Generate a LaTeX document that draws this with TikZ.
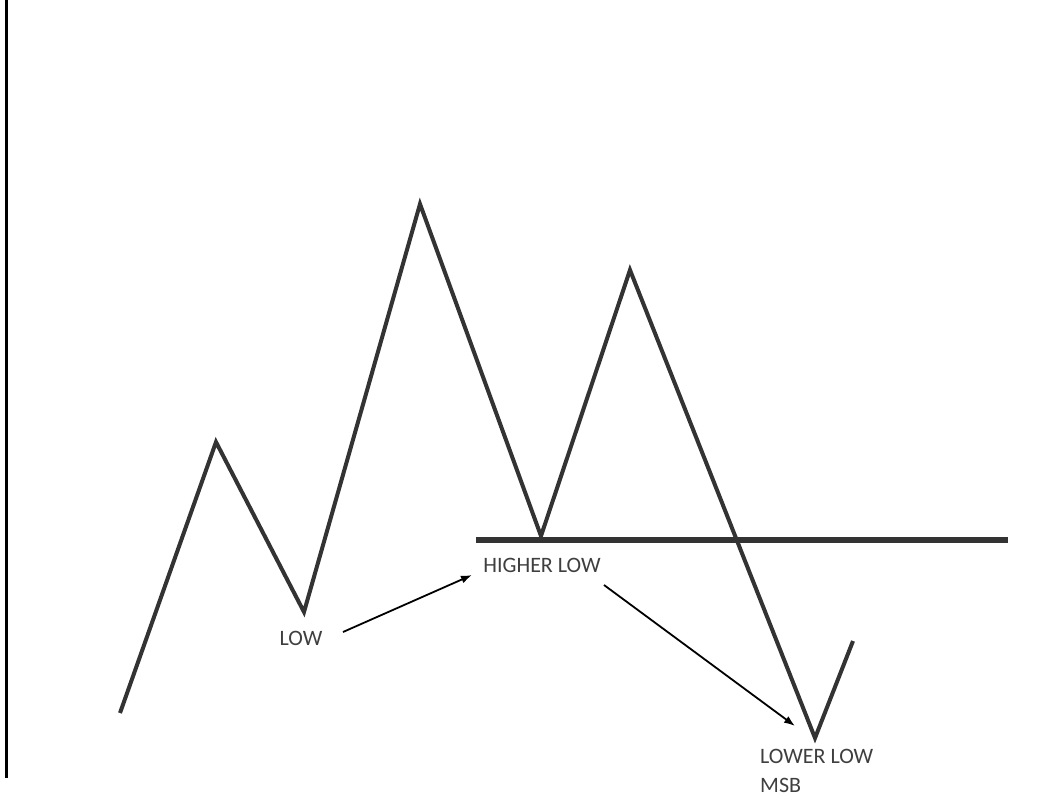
\documentclass[tikz,border=0pt]{standalone}
\usepackage{fontspec}
\setmainfont{Carlito}
\usetikzlibrary{arrows.meta}
\definecolor{zig}{HTML}{333333}
\definecolor{txt}{HTML}{3F3F3F}
\begin{document}
\begin{tikzpicture}[x=1pt,y=-1pt,
  zigline/.style={draw=zig,line width=4pt,line join=miter},
  level/.style={draw=zig,line width=6pt},
  pointer/.style={draw=black,line width=1.8pt,-{Latex[length=11pt,width=8pt]}},
  lab/.style={text=txt,font=\fontsize{22}{26}\selectfont,inner sep=0pt}]
\useasboundingbox[fill=white] (0,0) rectangle (1057,796);
\draw[line width=3pt] (6,0) -- (6,778);
\coordinate (p0) at (120,713);
\coordinate (p1) at (216,442);
\coordinate (p2) at (304,612);
\coordinate (p3) at (420,204);
\coordinate (p4) at (541,536);
\coordinate (p5) at (630,270);
\coordinate (p6) at (815,738);
\coordinate (p7) at (853,641);
\coordinate (l0) at (476,540);
\coordinate (l1) at (1008,540);
\draw[level] (l0) -- (l1);
\draw[zigline] (p0) -- (p1) -- (p2) -- (p3) -- (p4) -- (p5) -- (p6) -- (p7);
\node[lab] (low) at (301,638) {LOW};
\node[lab] (hl) at (542,565) {HIGHER LOW};
\node[lab,anchor=west] (ll) at (760,756) {LOWER LOW};
\node[lab,anchor=west] (msb) at (760,785) {MSB};
\coordinate (a1s) at (343,632);
\coordinate (a1e) at (472,575);
\coordinate (a2s) at (604,585);
\coordinate (a2e) at (795,726);
\draw[pointer] (a1s) -- (a1e);
\draw[pointer] (a2s) -- (a2e);
\end{tikzpicture}
\end{document}
